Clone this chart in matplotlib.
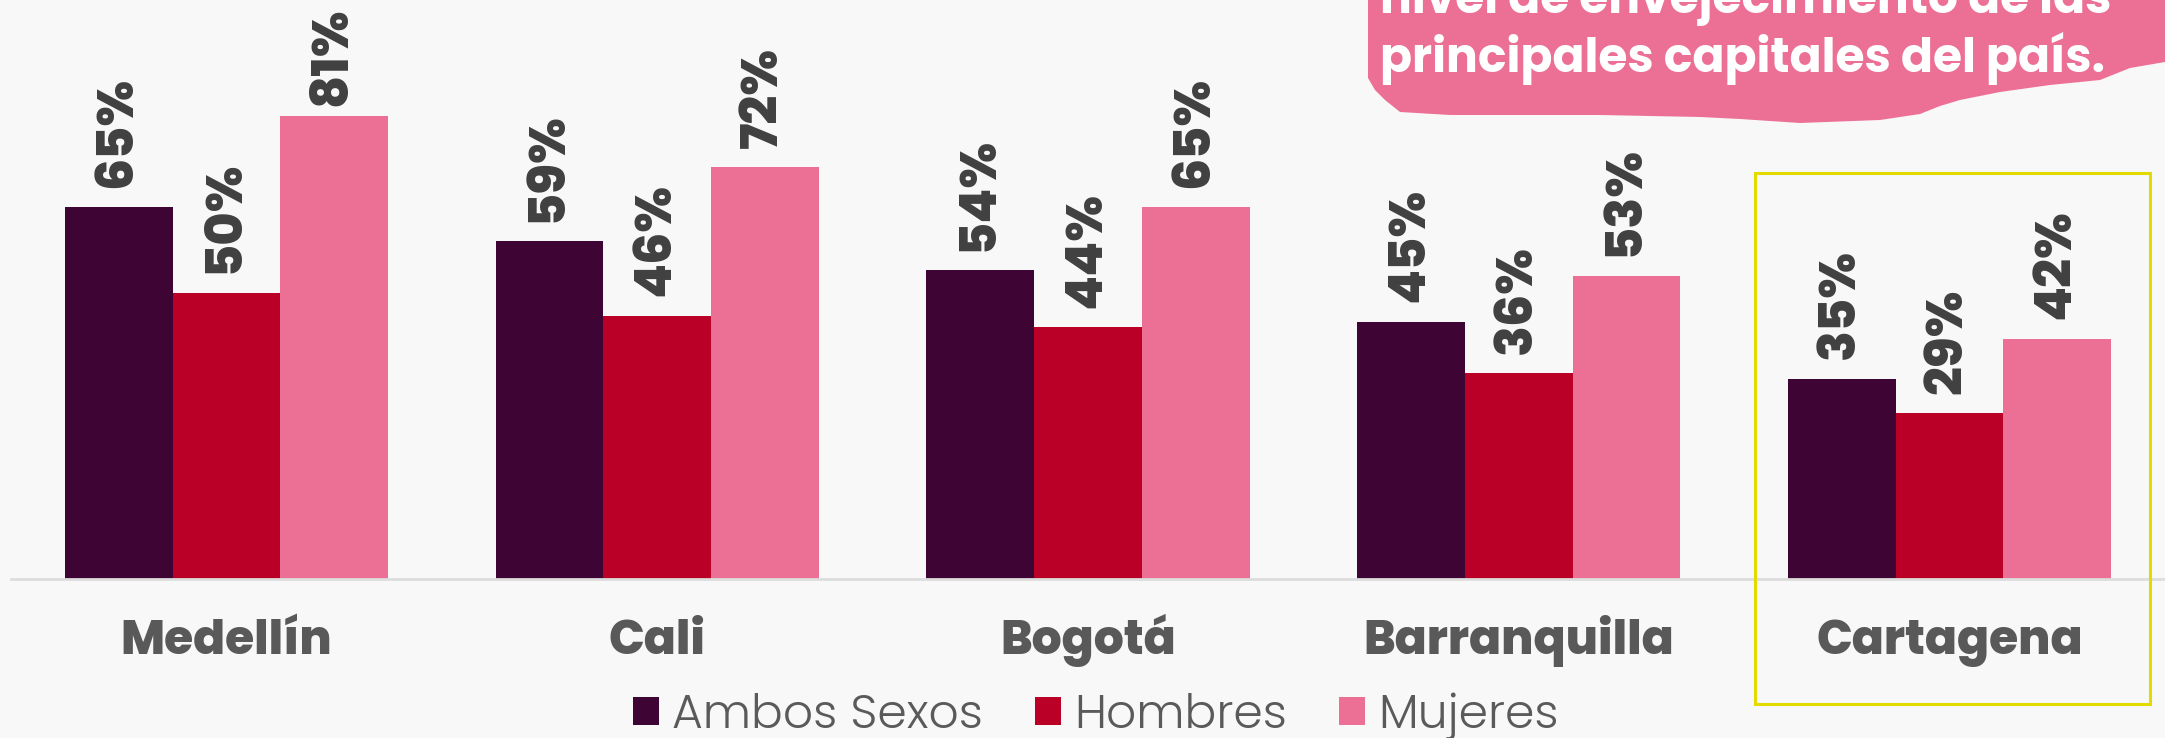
import matplotlib
matplotlib.use("Agg")
import matplotlib.pyplot as plt
import numpy as np
from matplotlib.patches import Rectangle, Polygon

# ---- data ----
cities = ["Medellín", "Cali", "Bogotá", "Barranquilla", "Cartagena"]
series_names = ["Ambos Sexos", "Hombres", "Mujeres"]
ambos = [65, 59, 54, 45, 35]
hombres = [50, 46, 44, 36, 29]
mujeres = [81, 72, 65, 53, 42]
colors = ["#3D0434", "#BA0027", "#EC7095"]
banner_lines = ["nivel de envejecimiento de las", "principales capitales del país."]

W, H = 2165, 738
BG = "#F8F8F8"
fig = plt.figure(figsize=(W / 100, H / 100), dpi=100, facecolor=BG)

base_px = 579
ax = fig.add_axes([11 / W, (H - base_px) / H, 1 - 11 / W, base_px / H])
ax.set_facecolor(BG)
ax.set_xlim(-0.5, 4.5)
ax.set_ylim(0, 101.2)

x = np.arange(len(cities))
w = 0.25
bars = []
anns = []
LABEL_OFF = 14
for i, (vals, c, name) in enumerate(zip([ambos, hombres, mujeres], colors, series_names)):
    b = ax.bar(x + (i - 1) * w, vals, width=w, color=c, label=name, zorder=2)
    bars.append(b)
    for rect, v in zip(b, vals):
        a = ax.annotate(f"{v}%", (rect.get_x() + rect.get_width() / 2, v),
                        xytext=(0, LABEL_OFF), textcoords="offset points",
                        rotation=90, ha="center", va="bottom",
                        fontsize=36.5, fontweight=800, family="Poppins",
                        color="#404040", annotation_clip=False)
        anns.append(a)

for s in ["top", "right", "left"]:
    ax.spines[s].set_visible(False)
ax.spines["bottom"].set_color("#DDDDDD")
ax.spines["bottom"].set_linewidth(2)
ax.set_yticks([])
ax.set_xticks(x)
ax.set_xticklabels(cities, fontsize=34, fontweight=800, family="Poppins", color="#595959")
for t in ax.get_xticklabels():
    t.set_verticalalignment("baseline")
ax.tick_params(axis="x", length=0, pad=54)

# legend
leg = fig.legend(handles=bars, labels=series_names, loc="center",
                 bbox_to_anchor=(1096 / W, (H - 716) / H), ncol=3, frameon=False,
                 prop={"family": "Poppins", "weight": 300, "size": 34},
                 handlelength=0.55, handleheight=0.55, handletextpad=0.28,
                 columnspacing=1.1, labelcolor="#5A5A5A")

# highlight box around Cartagena
fig.patches.append(Rectangle((1755 / W, (H - 704) / H), 395 / W, 531 / H,
                             transform=fig.transFigure, fill=False,
                             edgecolor="#E3DA00", linewidth=2.2, zorder=5))

# pink banner (top right)
pts_px = [(1368, 0), (2165, 0), (2165, 62), (2130, 68), (2100, 80), (2050, 85), (2000, 92),
          (1960, 100), (1940, 106), (1920, 114), (1880, 120), (1800, 123), (1740, 119),
          (1700, 117), (1600, 115), (1450, 115), (1400, 112), (1385, 100), (1375, 90),
          (1368, 78)]
poly = Polygon([(px / W, (H - py) / H) for px, py in pts_px], closed=True,
               transform=fig.transFigure, facecolor="#EC7095", edgecolor="none", zorder=3)
fig.patches.append(poly)
fig.text(1380 / W, (H - 13) / H, banner_lines[0], fontsize=34, fontweight=700,
         family="Poppins", color="white", ha="left", va="baseline", zorder=4)
fig.text(1380 / W, (H - 72) / H, banner_lines[1], fontsize=34, fontweight=700,
         family="Poppins", color="white", ha="left", va="baseline", zorder=4)

# keep value labels inside the figure (as in the reference, the tallest label sits just under the top edge)
fig.canvas.draw()
renderer = fig.canvas.get_renderer()
for a in anns:
    bb = a.get_window_extent(renderer)
    limit = H - 7
    if bb.y1 > limit:
        a.xyann = (0, LABEL_OFF - (bb.y1 - limit) * 72 / 100)

fig.savefig("out.png", dpi=100, facecolor=BG)
